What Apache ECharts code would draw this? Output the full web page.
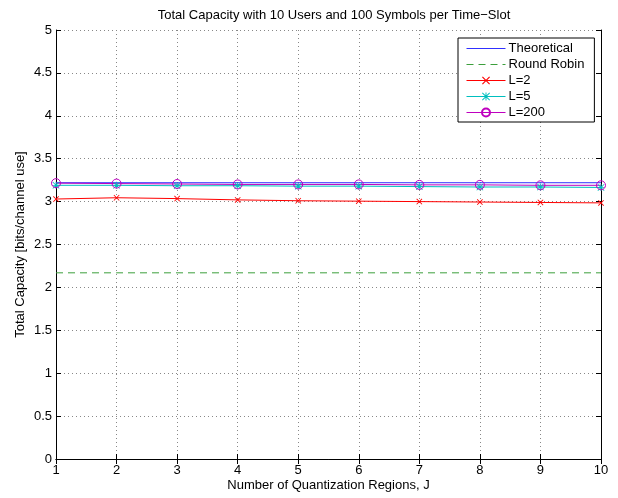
<!DOCTYPE html>
<html>
<head>
<meta charset="utf-8">
<script src="https://cdn.jsdelivr.net/npm/echarts@6/dist/echarts.min.js"></script>
<style>
html, body { margin: 0; padding: 0; background: #fff; }
#chart { width: 618px; height: 498px; }
</style>
</head>
<body>
<div id="chart"></div>
<script>
// number of quantization regions
var regions = [1, 2, 3, 4, 5, 6, 7, 8, 9, 10];
var theoretical = [3.22, 3.22, 3.22, 3.22, 3.22, 3.22, 3.22, 3.22, 3.22, 3.22];
var roundRobin = [2.17, 2.17, 2.17, 2.17, 2.17, 2.17, 2.17, 2.17, 2.17, 2.17];
var l2 = [3.03, 3.045, 3.035, 3.02, 3.01, 3.005, 3.0, 2.995, 2.99, 2.985];
var l5 = [3.19, 3.19, 3.185, 3.185, 3.18, 3.18, 3.175, 3.17, 3.17, 3.165];
var l200 = [3.215, 3.21, 3.205, 3.2, 3.2, 3.2, 3.195, 3.195, 3.19, 3.19];

var crossPath = 'path://M0,1 L1,0 L5,4 L9,0 L10,1 L6,5 L10,9 L9,10 L5,6 L1,10 L0,9 L4,5 Z';
var starPath = 'path://M4.4,0 L5.6,0 L5.6,10 L4.4,10 Z M0,4.4 L10,4.4 L10,5.6 L0,5.6 Z' +
    ' M0.8,0 L5,4.2 L9.2,0 L10,0.8 L5.8,5 L10,9.2 L9.2,10 L5,5.8 L0.8,10 L0,9.2 L4.2,5 L0,0.8 Z';

function pairs(arr) {
    return regions.map(function(x, i) { return [x, arr[i]]; });
}

var font = 'Liberation Sans, Arial, sans-serif';
var chart = echarts.init(document.getElementById('chart'));

var gridLine = { show: true, lineStyle: { color: '#888', type: [1, 3], width: 1 } };
var axisLine = { show: true, lineStyle: { color: '#000', width: 1 } };
var tick = { show: true, inside: true, length: 5, lineStyle: { color: '#000' } };

chart.setOption({
    animation: false,
    backgroundColor: '#fff',
    title: {
        text: 'Total Capacity with 10 Users and 100 Symbols per Time\u2212Slot',
        left: 329,
        textAlign: 'center',
        top: 4,
        textStyle: { fontFamily: font, fontSize: 13, fontWeight: 'normal', color: '#000' }
    },
    legend: {
        orient: 'vertical',
        left: 458,
        top: 38,
        padding: [4, 10, 3, 8],
        itemGap: 3,
        itemWidth: 39,
        itemHeight: 10,
        backgroundColor: '#fff',
        borderColor: '#000',
        borderWidth: 1,
        borderRadius: 0,
        lineStyle: { width: 1 },
        textStyle: { fontFamily: font, fontSize: 13, color: '#000', padding: [0, 0, 0, -2] },
        data: [
            { name: 'Theoretical', itemStyle: { opacity: 0 } },
            { name: 'Round Robin', itemStyle: { opacity: 0 } },
            'L=2', 'L=5', 'L=200'
        ]
    },
    grid: { left: 56, right: 17, top: 30, bottom: 39 },
    xAxis: [{
        type: 'value',
        min: 1,
        max: 10,
        interval: 1,
        name: 'Number of Quantization Regions, J',
        nameLocation: 'middle',
        nameGap: 20,
        nameMoveOverlap: false,
        nameTextStyle: { fontFamily: font, fontSize: 13, color: '#000' },
        axisLine: axisLine,
        axisTick: tick,
        axisLabel: { fontFamily: font, fontSize: 13, color: '#000', margin: 5 },
        splitLine: gridLine
    }, {
        type: 'value',
        position: 'top',
        min: 1,
        max: 10,
        interval: 1,
        axisLine: axisLine,
        axisTick: tick,
        axisLabel: { show: false },
        splitLine: { show: false }
    }],
    yAxis: [{
        type: 'value',
        min: 0,
        max: 5,
        interval: 0.5,
        name: 'Total Capacity [bits/channel use]',
        nameLocation: 'middle',
        nameGap: 29,
        nameMoveOverlap: false,
        nameTextStyle: { fontFamily: font, fontSize: 13, color: '#000' },
        axisLine: axisLine,
        axisTick: tick,
        axisLabel: { fontFamily: font, fontSize: 13, color: '#000', margin: 4 },
        splitLine: gridLine
    }, {
        type: 'value',
        position: 'right',
        min: 0,
        max: 5,
        interval: 0.5,
        axisLine: axisLine,
        axisTick: tick,
        axisLabel: { show: false },
        splitLine: { show: false }
    }],
    series: [
        {
            name: 'Theoretical',
            type: 'line',
            data: pairs(theoretical),
            symbol: 'none',
            lineStyle: { color: '#3030ff', width: 1 },
            itemStyle: { color: '#3030ff' },
            z: 2
        },
        {
            name: 'Round Robin',
            type: 'line',
            data: pairs(roundRobin),
            symbol: 'none',
            lineStyle: { color: '#3c9f3c', width: 1, type: [7, 5] },
            itemStyle: { color: '#3c9f3c' }
        },
        {
            name: 'L=2',
            type: 'line',
            data: pairs(l2),
            symbol: crossPath,
            symbolSize: 6,
            lineStyle: { color: '#ff0000', width: 1 },
            itemStyle: { color: '#ff0000' }
        },
        {
            name: 'L=5',
            type: 'line',
            data: pairs(l5),
            symbol: starPath,
            symbolSize: 7,
            lineStyle: { color: '#00bfbf', width: 1 },
            itemStyle: { color: '#00bfbf' }
        },
        {
            name: 'L=200',
            type: 'line',
            data: pairs(l200),
            symbol: 'circle',
            symbolSize: 9,
            lineStyle: { color: '#bf00bf', width: 1 },
            itemStyle: { color: 'transparent', borderColor: '#bf00bf', borderWidth: 1 }
        }
    ]
});
</script>
</body>
</html>
